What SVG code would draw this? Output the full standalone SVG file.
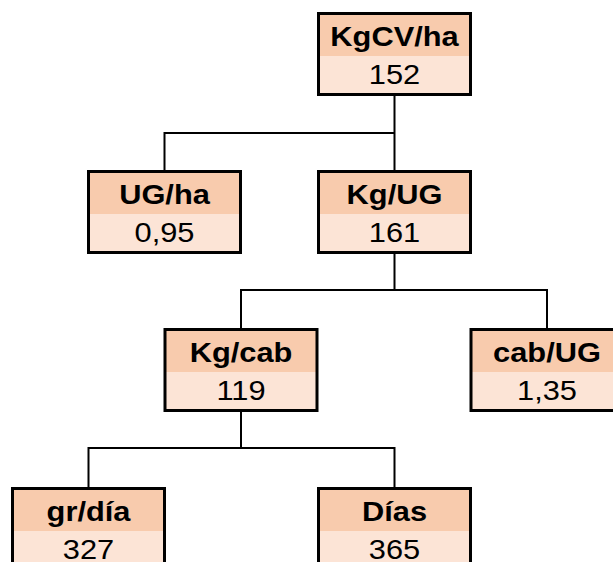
<svg xmlns="http://www.w3.org/2000/svg" width="613" height="562" viewBox="0 0 613 562">
  <style>
    .hdr { fill: #F8CBAD; }
    .body { fill: #FCE4D6; }
    .frame { fill: none; stroke: #000; stroke-width: 3; }
    .lbl { font-family: "Liberation Sans", Arial, sans-serif; font-size: 28px; font-weight: bold; text-anchor: middle; fill: #000; }
    .val { font-family: "Liberation Sans", Arial, sans-serif; font-size: 28px; text-anchor: middle; fill: #000; }
    .wire { fill: none; stroke: #000; stroke-width: 2; }
  </style>
  <defs>
    <g id="box">
      <rect class="hdr" x="-76" y="1.5" width="152" height="43"/>
      <rect class="body" x="-76" y="44" width="152" height="38.5"/>
      <rect class="frame" x="-76" y="1.5" width="152" height="81"/>
    </g>
  </defs>

  <g id="connectors">
    <path class="wire" d="M394.5 96 V170 M394.5 133 H164.5 V170"/>
    <path class="wire" d="M394.5 254 V290 H241 V328 M394.5 290 H547 V328"/>
    <path class="wire" d="M241 412 V448 H88.5 V487 M241 448 H394.5 V487"/>
  </g>

  <g id="kgcv-ha" transform="translate(394.5 12)">
    <use href="#box"/>
    <text class="lbl" transform="translate(0 34) scale(1.1 1)">KgCV/ha</text>
    <text class="val" transform="translate(0 72) scale(1.1 1)">152</text>
  </g>

  <g id="ug-ha" transform="translate(164.5 170)">
    <use href="#box"/>
    <text class="lbl" transform="translate(0 34) scale(1.1 1)">UG/ha</text>
    <text class="val" transform="translate(0 72) scale(1.1 1)">0,95</text>
  </g>

  <g id="kg-ug" transform="translate(394.5 170)">
    <use href="#box"/>
    <text class="lbl" transform="translate(0 34) scale(1.1 1)">Kg/UG</text>
    <text class="val" transform="translate(0 72) scale(1.1 1)">161</text>
  </g>

  <g id="kg-cab" transform="translate(241 328)">
    <use href="#box"/>
    <text class="lbl" transform="translate(0 34) scale(1.1 1)">Kg/cab</text>
    <text class="val" transform="translate(0 72) scale(1.1 1)">119</text>
  </g>

  <g id="cab-ug" transform="translate(547 328)">
    <use href="#box"/>
    <text class="lbl" transform="translate(0 34) scale(1.1 1)">cab/UG</text>
    <text class="val" transform="translate(0 72) scale(1.1 1)">1,35</text>
  </g>

  <g id="gr-dia" transform="translate(88.5 487)">
    <use href="#box"/>
    <text class="lbl" transform="translate(0 34) scale(1.1 1)">gr/día</text>
    <text class="val" transform="translate(0 72) scale(1.1 1)">327</text>
  </g>

  <g id="dias" transform="translate(394.5 487)">
    <use href="#box"/>
    <text class="lbl" transform="translate(0 34) scale(1.1 1)">Días</text>
    <text class="val" transform="translate(0 72) scale(1.1 1)">365</text>
  </g>
</svg>
